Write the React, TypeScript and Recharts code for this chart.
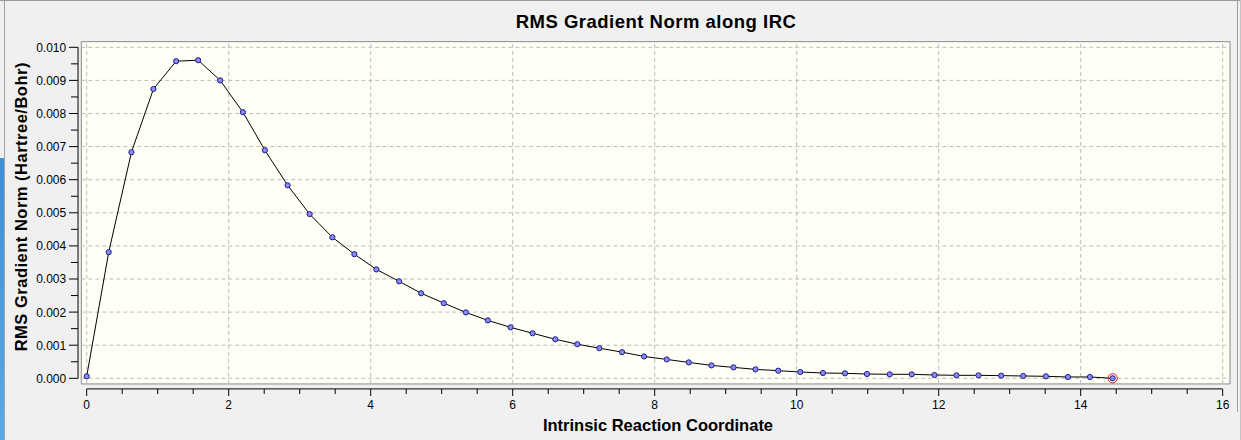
import { LineChart, Line, XAxis, YAxis, ReferenceLine, ReferenceArea } from "recharts"

// IRC step coordinate and RMS gradient norm (Hartree/Bohr)
const ircCoord = [
  0, 0.31, 0.63, 0.94, 1.26, 1.57, 1.88, 2.2, 2.51, 2.83, 3.14, 3.46, 3.77, 4.08, 4.4, 4.71,
  5.03, 5.34, 5.65, 5.97, 6.28, 6.6, 6.91, 7.22, 7.54, 7.85, 8.17, 8.48, 8.8, 9.11, 9.42, 9.74,
  10.05, 10.37, 10.68, 10.99, 11.31, 11.62, 11.94, 12.25, 12.56, 12.88, 13.19, 13.51, 13.82,
  14.13, 14.45,
]
const gradNorm = [
  0.00006, 0.00381, 0.00683, 0.00874, 0.00958, 0.00961, 0.009, 0.00804, 0.00689, 0.00583,
  0.00496, 0.00426, 0.00375, 0.00329, 0.00293, 0.00257, 0.00227, 0.00199, 0.00175, 0.00154,
  0.00136, 0.00118, 0.00103, 0.00091, 0.00079, 0.00066, 0.00057, 0.00048, 0.00039, 0.00033,
  0.00027, 0.00023, 0.00019, 0.00016, 0.00015, 0.00013, 0.00012, 0.00012, 0.0001, 0.00009,
  0.00009, 0.00008, 0.00007, 0.00006, 0.00004, 0.00004, 0,
]

const xTicks = [
  0, 0.5, 1, 1.5, 2, 2.5, 3, 3.5, 4, 4.5, 5, 5.5, 6, 6.5, 7, 7.5, 8, 8.5, 9, 9.5, 10, 10.5, 11,
  11.5, 12, 12.5, 13, 13.5, 14, 14.5, 15, 15.5, 16,
]
const xLabels = [0, 2, 4, 6, 8, 10, 12, 14, 16]
const yTicks = [
  0, 0.0005, 0.001, 0.0015, 0.002, 0.0025, 0.003, 0.0035, 0.004, 0.0045, 0.005, 0.0055, 0.006,
  0.0065, 0.007, 0.0075, 0.008, 0.0085, 0.009, 0.0095, 0.01,
]
const yLabels = [0, 0.001, 0.002, 0.003, 0.004, 0.005, 0.006, 0.007, 0.008, 0.009, 0.01]

const data = ircCoord.map((x, i) => ({ x, g: gradNorm[i] }))

// frame box and offset axis lines, in data units
const frameX: [number, number] = [-0.076, 16.103]
const frameY: [number, number] = [-0.00017, 0.01017]
const xAxisLineAt = -0.00032
const yAxisLineAt = -0.122

const font = "Arial, 'Liberation Sans', sans-serif"
const gridColor = "#bcbcbc"

const isIn = (list: number[], v: number) => list.some((l) => Math.abs(l - v) < 1e-9)

function XTick({ x, y, payload }: any) {
  const major = isIn(xLabels, payload.value)
  return (
    <g>
      <line x1={x} x2={x} y1={y + 10.7} y2={y + 10.7 + (major ? 7 : 5)} stroke="#000" />
      {major && (
        <text x={x} y={y + 31} textAnchor="middle" fontSize={12} fontFamily={font} fill="#000">
          {payload.value}
        </text>
      )}
    </g>
  )
}

function YTick({ x, y, payload }: any) {
  const major = isIn(yLabels, payload.value)
  return (
    <g>
      <line x1={x - 8.7} x2={x - 8.7 - (major ? 9 : 7)} y1={y} y2={y} stroke="#000" />
      {major && (
        <text x={x - 20.5} y={y + 4.4} textAnchor="end" fontSize={12} fontFamily={font} fill="#000">
          {payload.value.toFixed(3)}
        </text>
      )}
    </g>
  )
}

function PointDot({ cx, cy, index }: any) {
  const last = index === data.length - 1
  return (
    <g key={`dot-${index}`}>
      {last && <circle cx={cx} cy={cy} r={4.6} fill="none" stroke="#e01010" strokeWidth={1} />}
      <circle cx={cx} cy={cy} r={2.6} fill="#8c8cf0" stroke="#1c1c90" strokeWidth={1} />
    </g>
  )
}

export default function App() {
  return (
    <div
      style={{
        position: "absolute",
        left: 0,
        top: 0,
        width: 1241,
        height: 440,
        background: "#f0f0f0",
        overflow: "hidden",
      }}
    >
      {/* window edges */}
      <div style={{ position: "absolute", left: 0, top: 0, width: 1241, height: 1, background: "#9a9a9a" }} />
      <div
        style={{
          position: "absolute",
          left: 0,
          top: 158,
          width: 4,
          height: 282,
          background: "linear-gradient(#3d8fd6, #5aa9e8)",
        }}
      />
      <div style={{ position: "absolute", left: 4, top: 0, width: 1, height: 440, background: "#a0a0a0" }} />
      <div style={{ position: "absolute", left: 1237, top: 0, width: 1, height: 412, background: "#a0a0a0" }} />
      <div style={{ position: "absolute", left: 1240, top: 0, width: 1, height: 440, background: "#c4c4c4" }} />

      <div style={{ position: "absolute", left: 0, top: 0 }}>
        <LineChart
          width={1241}
          height={440}
          data={data}
          margin={{ top: 47.3, right: 18.3, bottom: 0, left: 0 }}
        >
          <XAxis
            type="number"
            dataKey="x"
            domain={[0, 16]}
            ticks={xTicks}
            interval={0}
            axisLine={false}
            tickLine={false}
            tickSize={0}
            tickMargin={0}
            height={61.7}
            tick={<XTick />}
          />
          <YAxis
            type="number"
            domain={[0, 0.01]}
            ticks={yTicks}
            interval={0}
            axisLine={false}
            tickLine={false}
            tickSize={0}
            tickMargin={0}
            width={86.7}
            tick={<YTick />}
          />
          <ReferenceArea
            x1={frameX[0]}
            x2={frameX[1]}
            y1={frameY[0]}
            y2={frameY[1]}
            ifOverflow="visible"
            fill="#fffff5"
            fillOpacity={1}
            stroke="#8a8a8a"
            strokeWidth={1}
          />
          {xLabels.map((v) => (
            <ReferenceLine
              key={`vx-${v}`}
              segment={[
                { x: v, y: frameY[0] },
                { x: v, y: frameY[1] },
              ]}
              ifOverflow="visible"
              stroke={gridColor}
              strokeDasharray="4 3"
            />
          ))}
          {yLabels.map((v) => (
            <ReferenceLine
              key={`hy-${v}`}
              segment={[
                { x: frameX[0], y: v },
                { x: frameX[1], y: v },
              ]}
              ifOverflow="visible"
              stroke={gridColor}
              strokeDasharray="4 3"
            />
          ))}
          <ReferenceLine
            segment={[
              { x: 0, y: xAxisLineAt },
              { x: 16, y: xAxisLineAt },
            ]}
            ifOverflow="visible"
            stroke="#000"
          />
          <ReferenceLine
            segment={[
              { x: yAxisLineAt, y: 0 },
              { x: yAxisLineAt, y: 0.01 },
            ]}
            ifOverflow="visible"
            stroke="#000"
          />
          <Line
            type="linear"
            dataKey="g"
            stroke="#000"
            strokeWidth={1}
            dot={<PointDot />}
            activeDot={false}
            isAnimationActive={false}
          />
        </LineChart>
      </div>

      <svg
        width={1241}
        height={440}
        style={{ position: "absolute", left: 0, top: 0, pointerEvents: "none" }}
      >
        <text
          x={656}
          y={28.3}
          textAnchor="middle"
          fontFamily={font}
          fontWeight="bold"
          fontSize={18.5}
          letterSpacing={0.5}
          fill="#000"
        >
          RMS Gradient Norm along IRC
        </text>
        <text
          x={658}
          y={430.7}
          textAnchor="middle"
          fontFamily={font}
          fontWeight="bold"
          fontSize={16.5}
          fill="#000"
        >
          Intrinsic Reaction Coordinate
        </text>
        <text
          x={27.3}
          y={206.7}
          transform="rotate(-90 27.3 206.7)"
          textAnchor="middle"
          fontFamily={font}
          fontWeight="bold"
          fontSize={16.5}
          letterSpacing={0.5}
          fill="#000"
        >
          RMS Gradient Norm (Hartree/Bohr)
        </text>
      </svg>
    </div>
  )
}
